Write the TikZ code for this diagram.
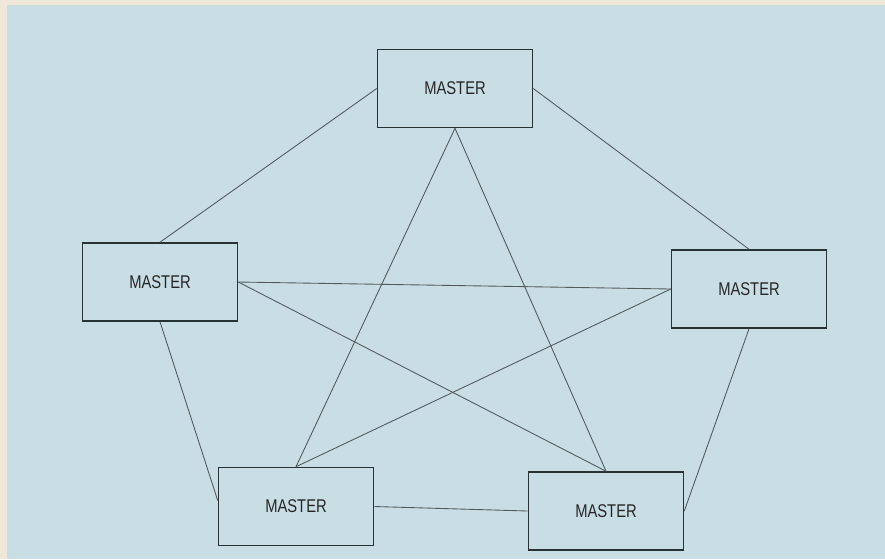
\documentclass[tikz,border=0pt]{standalone}
\usepackage{fontspec}
\setsansfont{Liberation Sans}[FakeStretch=0.8]
\usepackage{tikz}
\definecolor{PaperCream}{HTML}{F1E7D8}
\definecolor{PanelBlue}{HTML}{C8DEE4}
\definecolor{InkDark}{HTML}{263234}

\tikzset{
  masterbox/.style={draw=InkDark, line width=0.9pt, fill=PanelBlue,
    minimum width=3.1cm, minimum height=1.56cm, inner sep=0pt,
    font=\sffamily\fontsize{10.5}{12}\selectfont, text=black!85},
  link/.style={draw=InkDark!80, line width=0.5pt}
}

\begin{document}
\begin{tikzpicture}[x=0.02cm,y=-0.02cm]
  % background
  \fill[PaperCream] (0,0) rectangle (885,559);
  \fill[PanelBlue] (7,5) rectangle (885,559);
  \useasboundingbox (0,0) rectangle (885,559);

  % the five masters
  \node[masterbox] (mtop)   at (455,88.5) {MASTER};
  \node[masterbox] (mleft)  at (160,282)  {MASTER};
  \node[masterbox] (mright) at (749,289)  {MASTER};
  \node[masterbox] (mbl)    at (296,506.5) {MASTER};
  \node[masterbox] (mbr)    at (606,511)  {MASTER};

  % outer ring
  \draw[link] (mtop.west) -- (mleft.north);
  \draw[link] (mtop.east) -- (mright.north);
  \draw[link] (mleft.south) -- ([yshift=0.12cm]mbl.west);
  \draw[link] (mright.south) -- (mbr.east);
  \draw[link] (mbl.east) -- (mbr.west);

  % star
  \draw[link] (mtop.south) -- (mbl.north);
  \draw[link] (mtop.south) -- (mbr.north);
  \draw[link] (mleft.east) -- (mright.west);
  \draw[link] (mleft.east) -- (mbr.north);
  \draw[link] (mright.west) -- (mbl.north);
\end{tikzpicture}
\end{document}
